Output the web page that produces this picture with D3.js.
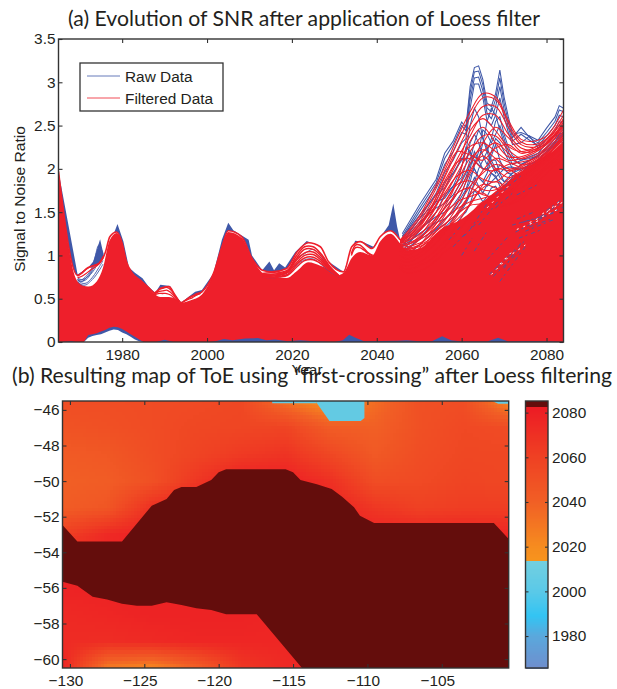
<!DOCTYPE html>
<html><head><meta charset="utf-8">
<script src="https://cdn.jsdelivr.net/npm/d3@7"></script>
<style>html,body{margin:0;padding:0;background:#fff}svg{display:block}text{font-family:"Liberation Sans",Arial,sans-serif;fill:#231f20}</style>
</head><body><div id="chart"></div>
<script>
// ---------- panel (a): values ----------
const titleA = "(a) Evolution of SNR after application of Loess filter";
const titleB = "(b) Resulting map of ToE using \u201Cfirst-crossing\u201D after Loess filtering";
const legendLabels = ["Raw Data", "Filtered Data"];
const yearTicks = [1980, 2000, 2020, 2040, 2060, 2080];
const snrTicks = [0, 0.5, 1, 1.5, 2, 2.5, 3, 3.5];

// outer edge of the raw (blue) bundle
const rawEdgeYears = [1965,1969.5,1972,1973.2,1974.8,1976,1977,1978.9,1980.3,1981.6,1983,1984.8,1986.2,1987.8,1989,1991.3,1992.5,1993.9,1997.2,1998.8,2001.5,2003.5,2005,2006.2,2009.8,2010.6,2013,2014.7,2015.8,2017,2018.4,2020.8,2023.5,2026.7,2028.6,2032.2,2034.9,2036.5,2039.2,2041.2,2042.8,2043.9,2044.8,2045.5];
const rawEdge = [1.97,0.78,0.86,0.93,1.186,0.93,1.12,1.363,1.16,0.86,0.8,0.735,0.64,0.57,0.66,0.647,0.54,0.455,0.58,0.6,0.79,1.18,1.378,1.29,1.18,1.0,0.83,0.93,0.83,0.91,0.86,1.04,1.167,1.1,0.93,0.81,1.17,1.16,1.1,1.236,1.35,1.6,1.33,1.18];

// outer edge of the filtered (red) bundle
const filtEdgeYears = [1965,1969.5,1972,1974.4,1976,1977.1,1978.7,1980,1981,1982.3,1984.6,1986.2,1987.8,1989,1991,1992.5,1993.9,1996,1998.8,2001.5,2003.5,2005,2008.2,2010.6,2013,2015.3,2018.8,2021.2,2023.9,2026.7,2028.6,2032.2,2034.1,2036.1,2038.9,2040.8,2043.2,2045.5];
const filtEdge = [1.97,0.77,0.86,0.9,1.03,1.215,1.27,1.14,0.93,0.8,0.7,0.63,0.565,0.62,0.64,0.54,0.455,0.52,0.58,0.79,1.1,1.285,1.215,0.965,0.83,0.81,0.85,1.04,1.147,1.1,0.93,0.81,1.1,1.16,1.08,1.215,1.285,1.18];

// top of the region where red lines merge into a solid mass
const solidYears = [1965,1969.5,1972,1974,1975.5,1977,1978.7,1980,1981,1982.3,1984.6,1986.2,1987.8,1989,1991,1992.5,1993.9,1996,1998.8,2001.5,2003.5,2005,2008.2,2010.6,2013,2015.3,2018.8,2021.2,2023.9,2026.7,2028.6,2030.5,2032.2,2034.1,2036.1,2038.9,2040.8,2043.2,2045.5,2047,2050,2055,2060,2065,2070,2075,2080,2084];
const solidTop = [1.97,0.7,0.64,0.7,0.86,1.17,1.26,1.14,0.93,0.8,0.7,0.63,0.55,0.52,0.52,0.5,0.455,0.48,0.55,0.79,1.1,1.27,1.2,0.965,0.8,0.75,0.74,0.82,0.92,0.88,0.84,0.77,0.8,0.97,1.04,1.0,1.16,1.25,1.14,1.06,1.08,1.3,1.42,1.62,1.82,2.0,2.15,2.3];

// white hole under the bundles, 1970s
const holeYears = [1969.8,1971,1972,1973,1974,1975,1976,1977,1978,1979,1980,1981,1982,1983,1984,1985];
const holeRaw = [0,0,0.05,0.07,0.08,0.09,0.11,0.13,0.145,0.14,0.11,0.09,0.06,0.03,0.01,0];
const holeFilt = [0,0,0.08,0.09,0.1,0.12,0.14,0.165,0.175,0.17,0.15,0.12,0.09,0.06,0.03,0];

// small blue bumps along the zero line
const floorYears = [1966,1968,1969,1970,1988,1990,1992,2001,2002,2004,2006,2009,2012,2014,2016,2019,2022,2025,2030,2032,2033.5,2035,2037,2045,2047,2050,2053,2055.4,2057.5,2060,2066,2068.6,2071,2075,2080,2084];
const floorRaw = [0,0.01,0,0,0,0.025,0,0,0.01,0.035,0.02,0.04,0.045,0.02,0.03,0.01,0.02,0.01,0,0.02,0.085,0.05,0.01,0.015,0.02,0.01,0.01,0.065,0.02,0.005,0.005,0.05,0.005,0.01,0.01,0];

// individual lines above the solid mass, 1970s
const gapYearsA = [1969.5,1970.5,1971.5,1972.5,1973.5,1974.5,1975.5];
const gapRedA = [[0.76,0.8,0.84,0.87,0.89,0.91,0.99],[0.74,0.76,0.79,0.83,0.86,0.9,0.97]];
const gapBlueA = [[0.74,0.72,0.74,0.78,0.84,0.94,0.98],[0.72,0.68,0.68,0.72,0.78,0.86,0.94],[0.7,0.66,0.66,0.7,0.75,0.82,0.9],[0.72,0.72,0.76,0.82,0.96,1.12,1.02],[0.72,0.7,0.74,0.8,0.92,1.05,0.98],[0.71,0.7,0.72,0.78,0.88,1.0,0.96]];
const gapYearsB = [1987.5,1988.5,1989.5,1990.5,1991.5,1992.5,1993.5];
const gapRedB = [[0.56,0.6,0.62,0.63,0.6,0.53,0.47],[0.55,0.58,0.59,0.6,0.57,0.52,0.46],[0.54,0.56,0.56,0.56,0.54,0.5,0.46]];
const gapYearsC = [2013,2015,2017,2019,2021,2023,2025,2027,2029,2031];
const gapRedC = [[0.79,0.8,0.8,0.83,0.99,1.1,1.1,1.01,0.87,0.77],[0.78,0.78,0.79,0.82,0.96,1.07,1.07,0.99,0.86,0.77],[0.77,0.77,0.78,0.81,0.94,1.03,1.04,0.96,0.85,0.76],[0.76,0.76,0.77,0.8,0.91,1.0,1.01,0.94,0.84,0.76],[0.76,0.75,0.76,0.78,0.89,0.97,0.98,0.92,0.83,0.75],[0.75,0.74,0.75,0.77,0.86,0.94,0.95,0.9,0.82,0.75]];
const gapBlueC = [[0.78,0.76,0.77,0.8,0.96,1.02,1.07,0.98,0.85,0.75],[0.75,0.74,0.75,0.78,0.88,0.95,0.96,0.89,0.81,0.75]];
const gapYearsD = [2034,2035,2036,2037,2038,2039];
const gapRedD = [[1.02,1.12,1.12,1.08,1.03,1.0],[1.0,1.09,1.09,1.06,1.02,1.0]];
const gapYearsE = [1994.5,1995.5,1996.5,1997.5,1998.5];
const gapRedE = [[0.47,0.5,0.53,0.56,0.57],[0.47,0.49,0.51,0.54,0.56]];

// raw lines rising over the mass after 2046
const rawYears = [2046,2050,2054,2056,2058,2060,2061,2062,2063,2064,2065,2066,2067,2068,2069,2070,2071,2072,2074,2076,2078,2080,2082,2083,2084];
const rawLines = [
 [1.25,1.58,1.88,2.18,2.32,2.54,2.48,2.95,3.17,3.19,3.03,2.76,2.72,2.87,3.14,2.83,2.6,2.4,2.42,2.38,2.33,2.47,2.6,2.73,2.7],
 [1.22,1.54,1.84,2.12,2.28,2.5,2.44,2.88,3.12,3.13,2.97,2.7,2.66,2.8,3.05,2.76,2.54,2.36,2.48,2.36,2.3,2.42,2.55,2.68,2.66],
 [1.2,1.5,1.8,2.05,2.2,2.42,2.4,2.8,3.05,3.06,2.9,2.64,2.58,2.72,2.95,2.68,2.48,2.32,2.4,2.33,2.27,2.38,2.5,2.62,2.6],
 [1.15,1.42,1.72,1.96,2.1,2.3,2.35,2.7,2.98,2.98,2.82,2.55,2.5,2.62,2.82,2.6,2.42,2.28,2.3,2.38,2.24,2.34,2.44,2.55,2.52],
 [1.1,1.35,1.62,1.85,1.95,2.1,2.2,2.5,2.7,2.6,2.35,2.2,2.35,2.55,2.6,2.4,2.25,2.15,2.1,2.12,2.15,2.25,2.35,2.45,2.45],
 [1.05,1.28,1.5,1.7,1.8,1.9,2.05,2.3,2.4,2.3,2.15,2.05,2.2,2.35,2.3,2.2,2.1,2.0,2.0,2.05,2.1,2.2,2.3,2.38,2.4],
 [1.0,1.2,1.4,1.55,1.65,1.8,1.9,2.05,2.15,2.1,2.0,2.0,2.15,2.28,2.1,2.0,1.95,1.95,2.0,2.02,2.1,2.2,2.28,2.32,2.3],
 [0.95,1.12,1.3,1.42,1.52,1.68,1.76,1.92,2.0,1.9,1.85,1.95,2.1,2.1,1.95,1.85,1.85,1.9,1.95,2.0,2.05,2.15,2.2,2.25,2.28],
 [0.9,1.05,1.2,1.32,1.42,1.55,1.62,1.78,1.9,1.8,1.72,1.82,1.95,1.92,1.8,1.75,1.78,1.82,1.9,1.95,2.0,2.1,2.15,2.2,2.22],
 [0.85,0.98,1.1,1.22,1.32,1.45,1.5,1.6,1.75,1.7,1.62,1.68,1.78,1.8,1.72,1.68,1.7,1.75,1.85,1.92,1.96,2.05,2.1,2.16,2.18],
 [1.2,1.46,1.7,1.78,1.95,2.12,2.1,2.2,2.1,2.05,2.0,2.0,1.95,1.9,1.95,2.0,1.95,1.92,1.95,2.05,2.1,2.2,2.3,2.4,2.42],
 [1.18,1.42,1.62,1.66,1.8,2.02,2.25,2.2,2.0,1.9,1.85,1.8,1.85,1.9,1.85,1.8,1.8,1.85,1.9,2.0,2.08,2.15,2.25,2.35,2.38],
 [1.15,1.38,1.55,1.6,1.7,1.85,1.95,2.1,2.3,2.45,2.35,2.25,2.1,2.0,1.9,1.85,1.9,1.95,2.05,2.1,2.16,2.22,2.3,2.36,2.4],
 [1.12,1.3,1.45,1.5,1.58,1.72,1.85,2.0,2.2,2.1,2.3,2.55,2.7,2.62,2.45,2.3,2.15,2.05,2.1,2.14,2.18,2.3,2.38,2.44,2.5],
 [1.1,1.25,1.38,1.42,1.5,1.62,1.75,1.85,2.05,2.2,2.45,2.4,2.3,2.4,2.5,2.35,2.2,2.1,2.05,2.1,2.14,2.24,2.32,2.4,2.42],
 [1.05,1.18,1.3,1.36,1.44,1.52,1.6,1.7,1.85,2.0,2.1,2.2,2.05,1.95,2.05,2.0,2.02,2.02,1.98,2.05,2.1,2.2,2.26,2.32,2.36]
];

// filtered lines rising over the mass after 2045
const filtYears = [2045.5,2047,2050,2053,2056,2059,2062,2065,2068,2071,2074,2077,2080,2084];
const filtLines = [
 [1.18,1.26,1.45,1.72,2.02,2.36,2.66,2.87,2.83,2.56,2.34,2.32,2.38,2.68],
 [1.17,1.24,1.42,1.68,1.98,2.3,2.6,2.82,2.8,2.53,2.31,2.28,2.35,2.62],
 [1.17,1.22,1.38,1.62,1.9,2.22,2.5,2.72,2.72,2.48,2.28,2.25,2.32,2.58],
 [1.16,1.2,1.32,1.55,1.82,2.12,2.38,2.62,2.62,2.4,2.24,2.22,2.3,2.54],
 [1.15,1.16,1.28,1.5,1.78,2.08,2.26,2.3,2.2,2.1,2.12,2.18,2.28,2.5],
 [1.12,1.12,1.22,1.42,1.68,1.95,2.2,2.38,2.38,2.22,2.12,2.15,2.25,2.46],
 [1.1,1.08,1.18,1.36,1.6,1.86,2.12,2.22,2.12,2.0,2.04,2.12,2.22,2.42],
 [1.08,1.04,1.12,1.3,1.5,1.72,1.98,2.2,2.3,2.18,2.05,2.08,2.18,2.38],
 [1.05,1.0,1.08,1.22,1.4,1.62,1.95,2.15,2.0,1.9,1.96,2.06,2.16,2.34],
 [1.0,0.96,1.02,1.16,1.34,1.56,1.8,1.95,2.05,2.0,1.92,2.0,2.12,2.3],
 [0.95,0.92,0.98,1.1,1.26,1.5,1.7,1.82,1.78,1.72,1.84,1.96,2.08,2.26],
 [0.9,0.88,0.92,1.02,1.16,1.36,1.6,1.78,1.85,1.78,1.78,1.9,2.04,2.2],
 [0.88,0.84,0.88,0.96,1.1,1.26,1.46,1.62,1.62,1.6,1.7,1.86,2.0,2.16],
 [0.85,0.8,0.82,0.9,1.04,1.16,1.34,1.48,1.55,1.58,1.65,1.8,1.95,2.12],
 [1.16,1.22,1.36,1.58,1.86,2.08,2.12,2.0,1.98,2.05,2.08,2.12,2.24,2.48],
 [1.15,1.2,1.34,1.52,1.72,1.92,1.98,1.88,1.85,1.96,2.02,2.1,2.2,2.44],
 [1.14,1.18,1.28,1.44,1.62,1.82,1.86,1.76,1.76,1.88,1.98,2.08,2.18,2.4],
 [1.13,1.16,1.24,1.38,1.54,1.72,1.78,1.7,1.68,1.8,1.95,2.05,2.16,2.36],
 [1.12,1.14,1.2,1.32,1.48,1.62,1.68,1.72,1.62,1.74,1.9,2.02,2.14,2.34],
 [1.11,1.12,1.18,1.28,1.42,1.54,1.62,1.66,1.7,1.72,1.86,2.0,2.12,2.32],
 [1.1,1.1,1.14,1.24,1.36,1.48,1.58,1.6,1.66,1.74,1.9,2.0,2.1,2.3],
 [1.09,1.08,1.12,1.2,1.3,1.42,1.58,1.82,2.0,1.98,2.0,2.06,2.16,2.36],
 [1.08,1.07,1.1,1.18,1.28,1.46,1.72,1.98,2.12,2.08,2.02,2.04,2.14,2.4],
 [1.12,1.12,1.2,1.34,1.56,1.86,2.32,2.48,2.3,2.14,2.14,2.2,2.3,2.52],
 [1.14,1.18,1.3,1.48,1.76,2.02,2.44,2.58,2.44,2.26,2.2,2.24,2.34,2.56],
 [1.16,1.2,1.34,1.56,1.92,2.2,2.16,2.1,2.24,2.28,2.18,2.22,2.3,2.5],
 [1.08,1.06,1.12,1.26,1.46,1.78,2.06,2.3,2.48,2.36,2.2,2.2,2.28,2.5]
];

// blue streaks visible through the red mass: [year, snr]
const streakStart = [[2071.9,1.35],[2072.7,1.27],[2078.6,1.45],[2074,1.38],[2066.5,0.78],[2067.5,0.76],[2068,0.85],[2066,0.95],[2060.5,1.22],[2064,1.35],[2068,1.55],[2070,1.75],[2073,1.7],[2073,1.42],[2075,1.28],[2076,1.33],[2080,1.52],[2073.5,1.2],[2069,0.7],[2070,0.85],[2058,1.1],[2060,1.0],[2063,1.05],[2057,1.18],[2062,1.3],[2068,1.7]];
const streakEnd = [[2081.7,1.49],[2084,1.56],[2083.3,1.6],[2079,1.44],[2074.7,1.16],[2073.9,1.06],[2072.5,1.07],[2071,1.22],[2064,1.4],[2069,1.65],[2072,1.72],[2074,1.92],[2078,1.82],[2077,1.5],[2082,1.42],[2081,1.42],[2084,1.66],[2079,1.3],[2075,1.1],[2074,1.15],[2061,1.26],[2062.5,1.2],[2066,1.28],[2060,1.35],[2066,1.6],[2071,1.85]];
const flickStart = [[2073,1.3],[2076,1.38],[2069,0.9],[2067,0.78],[2079,1.48],[2066,1.55],[2072,1.02],[2080,1.5]];
const flickEnd = [[2078,1.4],[2083,1.54],[2072,1.05],[2071,0.98],[2084,1.62],[2071,1.8],[2075,1.12],[2083,1.62]];

// ---------- panel (b) ----------
const lonTicksAll = [-130,-125,-120,-115,-110,-105];
const latTicks = [-46,-48,-50,-52,-54,-56,-58,-60];
const barTicks = [1980,2000,2020,2040,2060,2080];
const gridLons = [-130.5,-127.5,-124.5,-121.5,-118.5,-115.5,-112.5,-109.5,-106.5,-103.5,-100.5];
const gridLats = [-45.5,-47,-48.5,-50,-51.5,-53,-54.5,-56,-57.5,-59,-60.5];
const toeGrid = [
 [2052,2052,2053,2054,2056,2032,2016,2034,2050,2052,2022],
 [2048,2050,2053,2056,2057,2058,2042,2040,2050,2055,2053],
 [2043,2045,2052,2058,2064,2068,2056,2044,2052,2056,2056],
 [2040,2042,2050,2066,2080,2080,2070,2052,2054,2058,2056],
 [2042,2046,2070,2080,2080,2080,2078,2066,2060,2062,2062],
 [2060,2074,2080,2080,2080,2080,2080,2078,2078,2078,2076],
 [2078,2078,2078,2078,2078,2078,2078,2078,2078,2078,2078],
 [2078,2078,2078,2078,2078,2078,2078,2078,2078,2078,2078],
 [2074,2076,2078,2078,2078,2076,2076,2076,2076,2076,2076],
 [2073,2072,2074,2076,2076,2076,2076,2076,2076,2076,2076],
 [2078,2028,2022,2040,2066,2074,2076,2076,2076,2076,2076]
];
const darkUpperLon = [-130.5,-129.5,-126.5,-124.5,-123.5,-123,-122.5,-121.5,-120.5,-120,-119.5,-115.5,-115,-114.5,-113.4,-112.4,-111.7,-110.9,-110.5,-109.55,-101.5,-100.5];
const darkUpperLat = [-52.47,-53.4,-53.4,-51.38,-51,-50.5,-50.33,-50.33,-49.94,-49.5,-49.34,-49.34,-49.5,-49.94,-50.18,-50.44,-50.88,-51.47,-51.94,-52.35,-52.35,-53.25];
const darkLowerLon = [-100.5,-114.4,-117.44,-119.5,-120.5,-121.5,-122.5,-123.5,-124.5,-125.5,-126.5,-127.5,-128.47,-129.5,-130.5];
const darkLowerLat = [-60.5,-60.5,-57.48,-57.48,-57.24,-57.15,-56.96,-56.8,-57,-57,-56.89,-56.65,-56.5,-55.88,-55.65];
const cyanLon = [-116.4,-113.5,-112.55,-110.45,-110.2,-110.2,-113.5];
const cyanLat = [-45.5,-45.5,-46.62,-46.62,-46.45,-45.5,-45.5];
const cyanEdgeLon = [-116.4,-113.4,-113.5,-116.4];
const cyanEdgeLat = [-45.62,-45.62,-45.5,-45.5];
const cyanCornerLon = [-101.6,-100.5,-100.5,-101.2];
const cyanCornerLat = [-45.5,-45.5,-45.65,-45.65];
const scaleYears = [1966,1980,1989,2000,2013.4,2013.5,2020,2040,2060,2082];
const scaleColors = ["#6e8fce","#5aa8dc","#33c4f3","#5ac9e8","#72cfe0","#f7941d","#f68c1f","#f15f25","#ef4123","#ed1c24"];
const darkColor = "#640d0c";
const cyanColor = "#63cae3";
const blue = "#3f58a8", red = "#ee1f2b", ink = "#333";

// ---------- drawing ----------
const W = 617, H = 689;
const svg = d3.select("#chart").append("svg").attr("width", W).attr("height", H);
const A = {l:58.5, r:563.5, t:39, b:342};
const M = {l:62.5, r:508.7, t:401, b:668};
const C = {l:525.5, r:548, t:401, b:668};
const tickFont = 15.4;

const x = d3.scaleLinear().domain([1965,2084]).range([A.l,A.r]);
const y = d3.scaleLinear().domain([0,3.5]).range([A.b,A.t]);
svg.append("defs").append("clipPath").attr("id","ca").append("rect").attr("x",A.l).attr("y",A.t).attr("width",A.r-A.l).attr("height",A.b-A.t);
const gA = svg.append("g").attr("clip-path","url(#ca)");

const zip = (xs, ys) => xs.map((v,i)=>[v, ys[i]]);
const areaTo0 = d3.area().x(d=>x(d[0])).y0(y(0)).y1(d=>y(d[1]));
const areaSmooth = d3.area().x(d=>x(d[0])).y0(y(0)).y1(d=>y(d[1])).curve(d3.curveMonotoneX);
const ln = d3.line().x(d=>x(d[0])).y(d=>y(d[1]));
const lnSmooth = d3.line().x(d=>x(d[0])).y(d=>y(d[1])).curve(d3.curveMonotoneX);
const smooth = d3.line().x(d=>x(d[0])).y(d=>y(d[1])).curve(d3.curveCatmullRom);

// blue fringe, white cover, raw lines, red solid mass
gA.append("path").attr("d",areaTo0(zip(rawEdgeYears,rawEdge))).attr("fill",blue);
gA.append("path").attr("d",areaSmooth(zip(filtEdgeYears,filtEdge))).attr("fill","#fff");

const lineGroup = (years, lines, color, w) => gA.append("g").selectAll("path").data(lines).join("path")
  .attr("d", l=>smooth(zip(years,l))).attr("fill","none").attr("stroke",color).attr("stroke-width",w);

gA.append("g").selectAll("path").data(rawLines).join("path")
  .attr("d", l=>ln(zip(rawYears,l))).attr("fill","none").attr("stroke",blue).attr("stroke-width",1.05);
gA.append("path").attr("d",areaSmooth(zip(solidYears,solidTop))).attr("fill",red);
// gaps near the upper edge
lineGroup(gapYearsA,gapBlueA,blue,0.9); lineGroup(gapYearsA,gapRedA,red,1.2);
lineGroup(gapYearsB,gapRedB,red,1.3);
lineGroup(gapYearsC,gapBlueC,blue,0.8); lineGroup(gapYearsC,gapRedC,red,1.5);
lineGroup(gapYearsD,gapRedD,red,1.5);
lineGroup(gapYearsE,gapRedE,red,1.2);
// the filtered bundle's edge
gA.append("path").attr("d",lnSmooth(zip(filtEdgeYears,filtEdge))).attr("fill","none").attr("stroke",red).attr("stroke-width",1.6);
lineGroup(filtYears,filtLines,red,1.05);

// streaks through the mass
gA.append("g").selectAll("line").data(streakStart).join("line")
  .attr("x1",d=>x(d[0])).attr("y1",d=>y(d[1]))
  .attr("x2",(d,i)=>x(streakEnd[i][0])).attr("y2",(d,i)=>y(streakEnd[i][1]))
  .attr("stroke",blue).attr("stroke-width",1).attr("stroke-opacity",0.85).attr("stroke-dasharray","4 3 2 4");
gA.append("g").selectAll("line").data(flickStart).join("line")
  .attr("x1",d=>x(d[0])).attr("y1",d=>y(d[1]))
  .attr("x2",(d,i)=>x(flickEnd[i][0])).attr("y2",(d,i)=>y(flickEnd[i][1]))
  .attr("stroke","#fff").attr("stroke-width",1).attr("stroke-dasharray","2 5");

// the hole and the bumps at zero
gA.append("path").attr("d",areaTo0(zip(holeYears,holeFilt))).attr("fill",blue);
gA.append("path").attr("d",areaTo0(zip(holeYears,holeRaw))).attr("fill","#fff");
gA.append("path").attr("d",areaTo0(zip(floorYears,floorRaw))).attr("fill",blue);

// axes of panel (a)
function styleAxis(g){
  g.selectAll(".domain").remove();
  g.selectAll("line").attr("stroke",ink).attr("stroke-width",1.1);
  g.selectAll("text").attr("font-size",tickFont).attr("font-family",'"Liberation Sans",Arial,sans-serif').attr("fill","#231f20");
}
svg.append("g").attr("transform",`translate(0,${A.b})`).call(d3.axisBottom(x).tickValues(yearTicks).tickSize(-4).tickPadding(7).tickFormat(d3.format("d"))).call(styleAxis);
svg.append("g").attr("transform",`translate(0,${A.t})`).call(d3.axisTop(x).tickValues(yearTicks).tickSize(-4).tickFormat("")).call(styleAxis);
svg.append("g").attr("transform",`translate(${A.l},0)`).call(d3.axisLeft(y).tickValues(snrTicks).tickSize(-4).tickPadding(3).tickFormat(d3.format("~g"))).call(styleAxis);
svg.append("g").attr("transform",`translate(${A.r},0)`).call(d3.axisRight(y).tickValues(snrTicks).tickSize(-4).tickFormat("")).call(styleAxis);
svg.append("rect").attr("x",A.l).attr("y",A.t).attr("width",A.r-A.l).attr("height",A.b-A.t).attr("fill","none").attr("stroke",ink).attr("stroke-width",1.4);

// legend
const lg = svg.append("g");
lg.append("rect").attr("x",80).attr("y",63).attr("width",143).attr("height",48).attr("fill","#fff").attr("stroke",ink).attr("stroke-width",1.3);
legendLabels.forEach((t,i)=>{
  const ly = 76 + i*22;
  lg.append("line").attr("x1",87).attr("x2",120).attr("y1",ly).attr("y2",ly).attr("stroke",i?red:blue).attr("stroke-width",0.8);
  lg.append("text").attr("x",125).attr("y",ly+5.5).attr("font-size",tickFont).text(t);
});
svg.append("text").attr("transform","translate(25,199) rotate(-90)").attr("text-anchor","middle").attr("font-size",tickFont).attr("textLength",146).attr("lengthAdjust","spacingAndGlyphs").text("Signal to Noise Ratio");
svg.append("text").attr("x",307).attr("y",375).attr("text-anchor","middle").attr("font-size",tickFont).text("Year");
const titleFont = 'Lato,"Open Sans",sans-serif';
svg.append("text").attr("x",68).attr("y",25.5).attr("font-size",21).style("font-family",titleFont).attr("textLength",472).attr("lengthAdjust","spacingAndGlyphs").text(titleA);
svg.append("text").attr("x",12).attr("y",383).attr("font-size",21).style("font-family",titleFont).attr("textLength",600).attr("lengthAdjust","spacingAndGlyphs").text(titleB);

// panel (b): field
const lon = d3.scaleLinear().domain([-130.5,-100.5]).range([M.l,M.r]);
const lat = d3.scaleLinear().domain([-45.5,-60.5]).range([M.t,M.b]);
const colour = d3.scaleLinear().domain(scaleYears).range(scaleColors).clamp(true);
svg.append("defs").append("clipPath").attr("id","cb").append("rect").attr("x",M.l).attr("y",M.t).attr("width",M.r-M.l).attr("height",M.b-M.t);
const gB = svg.append("g").attr("clip-path","url(#cb)");
const stepLon = 0.2, stepLat = 0.2;
const cellLons = d3.range(gridLons[0], gridLons[gridLons.length-1], stepLon);
const cellLats = d3.range(gridLats[0], gridLats[gridLats.length-1], -stepLat);
const iLon = d3.scaleLinear().domain(gridLons).range(d3.range(gridLons.length));
const iLat = d3.scaleLinear().domain(gridLats).range(d3.range(gridLats.length));
function field(a,b){ // bilinear shading of the grid
  const u=iLon(a), v=iLat(b), i=Math.min(Math.floor(u),gridLons.length-2), j=Math.min(Math.floor(v),gridLats.length-2), s=u-i, t=v-j;
  return (toeGrid[j][i]*(1-s)+toeGrid[j][i+1]*s)*(1-t)+(toeGrid[j+1][i]*(1-s)+toeGrid[j+1][i+1]*s)*t;
}
const cells = cellLats.flatMap(b=>cellLons.map(a=>[a,b]));
gB.append("g").attr("shape-rendering","crispEdges").selectAll("rect").data(cells).join("rect")
  .attr("x",d=>lon(d[0])).attr("y",d=>lat(d[1]))
  .attr("width",lon(stepLon)-lon(0)+0.6).attr("height",lat(-stepLat)-lat(0)+0.6)
  .attr("fill",d=>colour(field(d[0]+stepLon/2,d[1]-stepLat/2)));
const poly = d3.line().x(d=>lon(d[0])).y(d=>lat(d[1]));
gB.append("path").attr("d",poly(zip(darkUpperLon.concat(darkLowerLon),darkUpperLat.concat(darkLowerLat)))+"Z").attr("fill",darkColor);
gB.append("path").attr("d",poly(zip(cyanLon,cyanLat))+"Z").attr("fill",cyanColor);
gB.append("path").attr("d",poly(zip(cyanEdgeLon,cyanEdgeLat))+"Z").attr("fill",cyanColor);
gB.append("path").attr("d",poly(zip(cyanCornerLon,cyanCornerLat))+"Z").attr("fill",cyanColor);

svg.append("g").attr("transform",`translate(0,${M.b})`).call(d3.axisBottom(lon).tickValues(lonTicksAll).tickSize(-4).tickPadding(7)).call(styleAxis).selectAll("text").attr("dx",-4.5);
svg.append("g").attr("transform",`translate(0,${M.t})`).call(d3.axisTop(lon).tickValues(lonTicksAll).tickSize(-4).tickFormat("")).call(styleAxis);
svg.append("g").attr("transform",`translate(${M.l},0)`).call(d3.axisLeft(lat).tickValues(latTicks).tickSize(-4).tickPadding(3)).call(styleAxis);
svg.append("g").attr("transform",`translate(${M.r},0)`).call(d3.axisRight(lat).tickValues(latTicks).tickSize(-4).tickFormat("")).call(styleAxis);
svg.append("rect").attr("x",M.l).attr("y",M.t).attr("width",M.r-M.l).attr("height",M.b-M.t).attr("fill","none").attr("stroke",ink).attr("stroke-width",1.4);

// colour bar
const bar = d3.scaleLinear().domain([1965.7,2085.2]).range([C.b,C.t]);
const barYears = d3.range(1965.7,2085.2,0.5);
svg.append("g").attr("shape-rendering","crispEdges").selectAll("rect").data(barYears).join("rect")
  .attr("x",C.l).attr("width",C.r-C.l).attr("y",d=>bar(d+0.5)).attr("height",bar(0)-bar(0.5)+0.6)
  .attr("fill",d=>d>=2082.4?darkColor:colour(d));
svg.append("g").attr("transform",`translate(${C.r},0)`).call(d3.axisRight(bar).tickValues(barTicks).tickSize(-3).tickPadding(4).tickFormat(d3.format("d"))).call(styleAxis);
svg.append("g").attr("transform",`translate(${C.l},0)`).call(d3.axisLeft(bar).tickValues(barTicks).tickSize(-3).tickFormat("")).call(styleAxis);
svg.append("rect").attr("x",C.l).attr("y",C.t).attr("width",C.r-C.l).attr("height",C.b-C.t).attr("fill","none").attr("stroke",ink).attr("stroke-width",1.4);
</script></body></html>
